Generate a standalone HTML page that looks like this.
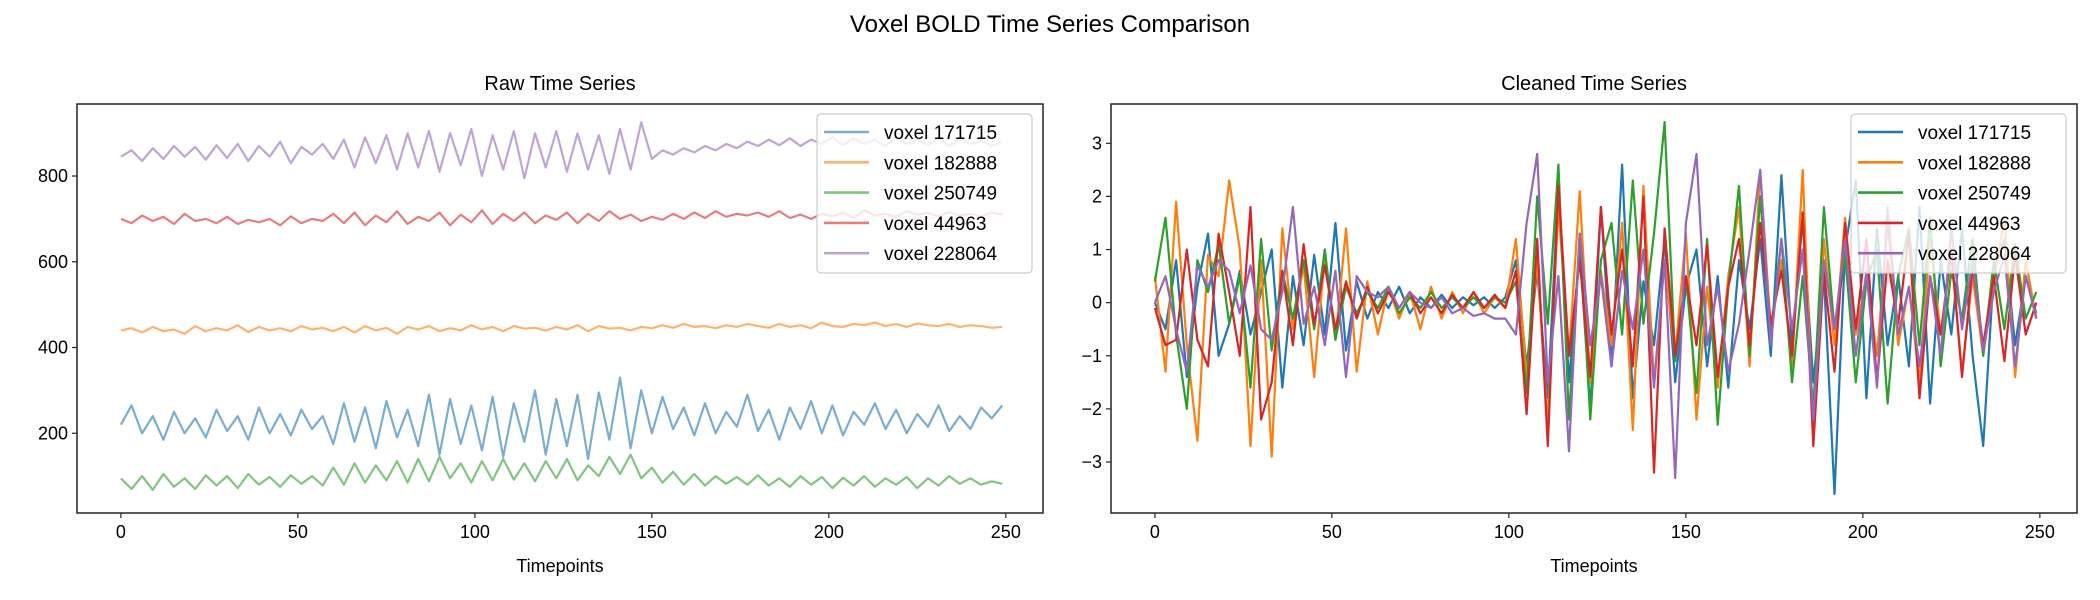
<!DOCTYPE html>
<html><head><meta charset="utf-8">
<style>
html,body{margin:0;padding:0;background:#fff;}
svg{display:block;font-family:"Liberation Sans","DejaVu Sans",sans-serif;}
</style></head>
<body>
<svg id="chart" width="2100" height="600" xmlns="http://www.w3.org/2000/svg">
<text x="1050" y="32" font-size="24" text-anchor="middle" fill="#000">Voxel BOLD Time Series Comparison</text>
<g id="left"></g>
<g id="right"></g>
</svg>
<script>
// x positions (timepoints) sampled every 3
const timepoints = [];
for (let t = 0; t < 250; t += 3) timepoints.push(t);
const seriesNames = ["voxel 171715","voxel 182888","voxel 250749","voxel 44963","voxel 228064"];
const rawTicksY = [200,400,600,800];
const cleanTicksY = [-3,-2,-1,0,1,2,3];
const ticksX = [0,50,100,150,200,250];

const raw171715 = [220,265,200,240,185,250,200,235,190,255,205,240,185,260,200,245,195,255,210,240,
175,270,180,260,165,275,190,255,170,290,150,280,175,265,160,285,145,270,180,300,
150,280,170,290,140,295,185,330,165,300,200,285,210,260,195,270,200,250,215,290,
205,255,185,260,210,275,200,265,195,250,220,270,210,255,200,245,215,265,205,240,210,260,235,265];
const raw182888 = [440,445,435,448,438,442,432,450,438,445,440,452,436,448,440,445,438,450,442,446,
438,448,435,450,440,446,432,448,442,450,438,445,440,452,442,448,438,450,444,446,
440,448,442,452,438,450,444,446,440,448,445,452,446,455,448,450,445,452,448,455,
450,446,455,448,452,445,458,450,448,455,452,458,450,455,448,456,452,450,455,448,452,450,446,448];
const raw250749 = [95,70,100,68,105,75,95,70,102,78,100,72,105,80,98,75,102,82,100,78,
120,80,130,85,125,90,135,85,140,88,145,95,130,85,135,90,140,92,130,88,
135,95,140,90,125,100,145,105,150,95,120,85,110,80,105,78,100,82,98,80,
102,78,95,75,100,80,98,72,96,78,100,75,95,80,98,72,95,78,100,82,95,80,88,82];
const raw44963 = [700,690,708,695,705,688,712,695,700,690,705,688,698,692,700,685,706,690,700,695,
712,690,715,685,708,692,718,688,705,695,715,685,710,692,720,688,712,695,715,690,
708,698,715,690,712,695,718,700,710,695,705,698,712,700,715,702,718,705,712,708,
715,705,718,702,710,700,712,706,715,702,720,708,712,705,718,710,714,706,716,708,712,705,715,710];
const raw228064 = [845,860,835,865,840,870,845,868,838,872,842,875,835,870,845,880,830,868,850,875,
840,885,820,890,830,895,815,900,820,905,810,900,825,910,800,895,815,905,795,900,
820,905,810,900,815,895,805,910,815,925,840,860,850,865,855,870,860,875,865,880,
870,885,872,888,870,885,875,890,872,888,875,885,870,890,875,885,872,888,870,885,875,882,870,880];

const clean171715 = [0,-0.5,0.8,-1.4,0.3,1.3,-1.0,-0.4,0.6,-0.6,0.2,1.0,-1.6,0.5,-0.8,0.9,-0.6,1.5,-0.9,0.4,
-0.3,0.2,-0.1,0.3,-0.2,0.1,-0.1,0.15,-0.1,0.1,-0.05,0.1,-0.1,0.1,0.8,-1.2,0.6,-1.8,2.2,-1.5,
1.0,-2.0,1.8,-1.2,2.6,-1.8,0.4,-0.8,1.2,-1.5,0.3,1.0,-1.2,0.5,-1.6,0.8,-0.5,1.2,-1.0,2.4,
-0.8,1.6,-1.5,0.5,-3.6,1.0,2.3,-1.8,1.4,-0.8,0.5,-1.2,1.8,-1.9,0.8,-0.6,1.4,-1.0,-2.7,0.6,1.2,-0.8,0.5,-0.2];
const clean182888 = [0.5,-1.3,1.9,-0.8,-2.6,0.9,0.5,2.3,1.0,-2.7,0.8,-2.9,1.4,-0.5,0.7,-1.4,0.9,-0.7,1.4,-1.3,
0.4,-0.6,0.3,-0.3,0.2,-0.5,0.3,-0.3,0.2,-0.2,0.2,-0.2,0.1,-0.1,1.2,-1.4,0.8,-2.3,1.8,-1.0,
2.1,-1.5,0.6,-0.8,1.5,-2.4,2.2,-1.5,0.8,-1.0,1.3,-2.2,0.3,-1.6,0.5,1.8,-1.2,2.5,-0.5,0.8,
-1.2,2.5,-2.6,1.2,-0.8,1.6,-0.6,0.5,-1.0,1.5,-0.8,0.3,-1.5,1.2,-0.6,0.9,-1.3,0.5,-1.0,0.4,1.6,-1.4,0.8,-0.3];
const clean250749 = [0.4,1.6,-0.6,-2.0,0.8,0.2,1.1,-0.4,0.5,-1.6,1.2,-0.9,0.6,-0.3,0.8,-0.5,1.0,-0.7,0.3,-0.2,
0.2,-0.1,0.3,-0.2,0.1,-0.1,0.2,-0.1,0.1,-0.1,0.1,-0.1,0.1,0,0.4,-1.7,2.0,-0.4,2.6,-2.2,
1.3,-2.2,0.8,1.5,-0.6,2.3,-0.4,1.3,3.4,-1.1,0.5,-1.7,1.2,-2.3,0.3,2.2,-1.0,2.0,-0.6,1.2,
-1.5,0.5,-2.0,1.8,-0.5,0.9,-1.5,0.4,1.0,-1.9,0.5,1.4,-0.8,1.6,-1.2,0.6,-0.3,1.2,-1.0,0.8,-0.5,1.1,-0.3,0.2];
const clean44963 = [-0.1,-0.8,-0.7,1.0,-0.7,-1.2,1.3,0.2,-1.0,1.8,-2.2,-1.5,0.6,-0.8,1.1,-0.4,0.7,-0.5,0.4,-0.3,
0.3,-0.2,0.2,-0.1,0.2,-0.2,0.1,-0.2,0.15,-0.1,0.2,-0.1,0.15,-0.1,0.6,-2.1,1.2,-2.7,2.2,-1.0,
0.8,-1.4,1.8,-0.6,1.0,-1.2,2.0,-3.2,1.4,-1.0,0.5,-0.8,1.1,-1.4,0.3,1.2,-0.8,1.5,-0.4,0.6,
-1.0,1.7,-2.7,0.6,-1.3,1.5,-0.5,1.2,-1.5,0.8,-0.4,1.3,-1.8,0.5,-0.6,1.0,-1.4,0.7,-0.8,0.5,-1.1,0.9,-0.6,0];
const clean228064 = [0,0.5,-0.5,-1.3,0.7,0.3,0.8,0.6,-0.2,0.7,-0.5,-0.7,0.2,1.8,-0.4,0.3,-0.8,0.6,-1.4,0.5,
0.2,0.1,0.3,-0.1,0.2,0,-0.1,0.1,-0.2,-0.1,-0.25,-0.2,-0.3,-0.3,-0.6,1.5,2.8,-1.5,0.5,-2.8,
1.3,-0.8,0.5,-1.2,0.6,-0.5,1.0,-1.6,0.8,-3.3,1.5,2.8,-0.8,0.3,-1.3,-0.4,1.0,2.5,-0.8,1.2,
-0.5,1.0,-2.2,0.8,-0.5,1.2,-1.0,0.6,-1.6,1.8,-0.6,0.3,-1.2,0.5,-1.0,1.4,-0.5,0.8,-0.9,0.2,0.9,-1.2,0.5,-0.3];

const colors = ["#1f77b4","#ff7f0e","#2ca02c","#d62728","#9467bd"];
const NS = "http://www.w3.org/2000/svg";
function mk(tag, attrs, parent){const e=document.createElementNS(NS,tag);for(const k in attrs)e.setAttribute(k,attrs[k]);parent.appendChild(e);return e;}

function panel(g, cfg){
  const {left,top,right,bottom,xmin,xmax,ymin,ymax,yticks,series,alpha,title,fmt,prefix} = cfg;
  const xs = v => left + (v - xmin) / (xmax - xmin) * (right - left);
  const ys = v => bottom - (v - ymin) / (ymax - ymin) * (bottom - top);
  const t = mk("text",{x:(left+right)/2,y:top-14,"font-size":20,"text-anchor":"middle",fill:"#000"},g);
  t.textContent = title;
  
  
  series.forEach((arr,si)=>{
    const pts = arr.map((v,i)=>xs(timepoints[i]).toFixed(1)+","+ys(v).toFixed(1)).join(" ");
    const pl = mk("polyline",{points:pts,fill:"none",stroke:colors[si],"stroke-width":2.2,"stroke-opacity":alpha,"stroke-linejoin":"round"},g);
    
    
  });
  const frame = mk("rect",{x:left,y:top,width:right-left,height:bottom-top,fill:"none",stroke:"#222","stroke-width":1.5},g);
  
  
  ticksX.forEach(v=>{
    const x = xs(v);
    mk("line",{x1:x,x2:x,y1:bottom,y2:bottom+5,stroke:"#222","stroke-width":1.2},g);
    const tl = mk("text",{x:x,y:bottom+25,"font-size":18,"text-anchor":"middle",fill:"#000"},g);
    tl.textContent = v;
    
    
  });
  yticks.forEach(v=>{
    const y = ys(v);
    mk("line",{x1:left-5,x2:left,y1:y,y2:y,stroke:"#222","stroke-width":1.2},g);
    const tl = mk("text",{x:left-9,y:y+6,"font-size":18,"text-anchor":"end",fill:"#000"},g);
    tl.textContent = fmt(v);
    
    
  });
  const xl = mk("text",{x:(left+right)/2,y:572,"font-size":18,"text-anchor":"middle",fill:"#000"},g);
  xl.textContent = "Timepoints";
  
  
  // legend
  const lx = right - 226, ly = top + 10;
  const lg = mk("g",{},g);
  
  
  mk("rect",{x:lx,y:ly,width:215,height:159,rx:4,fill:"#fff","fill-opacity":0.8,stroke:"#ccc","stroke-width":1.2},lg);
  seriesNames.forEach((n,si)=>{
    const cy = ly + 18 + si*30.3;
    const ln = mk("line",{x1:lx+7,x2:lx+52,y1:cy,y2:cy,stroke:colors[si],"stroke-width":2.6,"stroke-opacity":alpha},lg);
    
    
    const tx = mk("text",{x:lx+67,y:cy+7,"font-size":19,fill:"#000"},lg);
    tx.textContent = n;
    
    
  });
}

panel(document.getElementById("left"),{left:77,top:104,right:1043,bottom:513,xmin:-12.4,xmax:260.5,ymin:14,ymax:968,
  yticks:rawTicksY,series:[raw171715,raw182888,raw250749,raw44963,raw228064],alpha:0.6,title:"Raw Time Series",fmt:v=>String(v),prefix:"raw"});
panel(document.getElementById("right"),{left:1111,top:104,right:2077,bottom:513,xmin:-12.4,xmax:260.5,ymin:-3.96,ymax:3.74,
  yticks:cleanTicksY,series:[clean171715,clean182888,clean250749,clean44963,clean228064],alpha:1,title:"Cleaned Time Series",fmt:v=>v<0?"\u2212"+Math.abs(v):String(v),prefix:"cleaned"});
</script>
</body></html>
